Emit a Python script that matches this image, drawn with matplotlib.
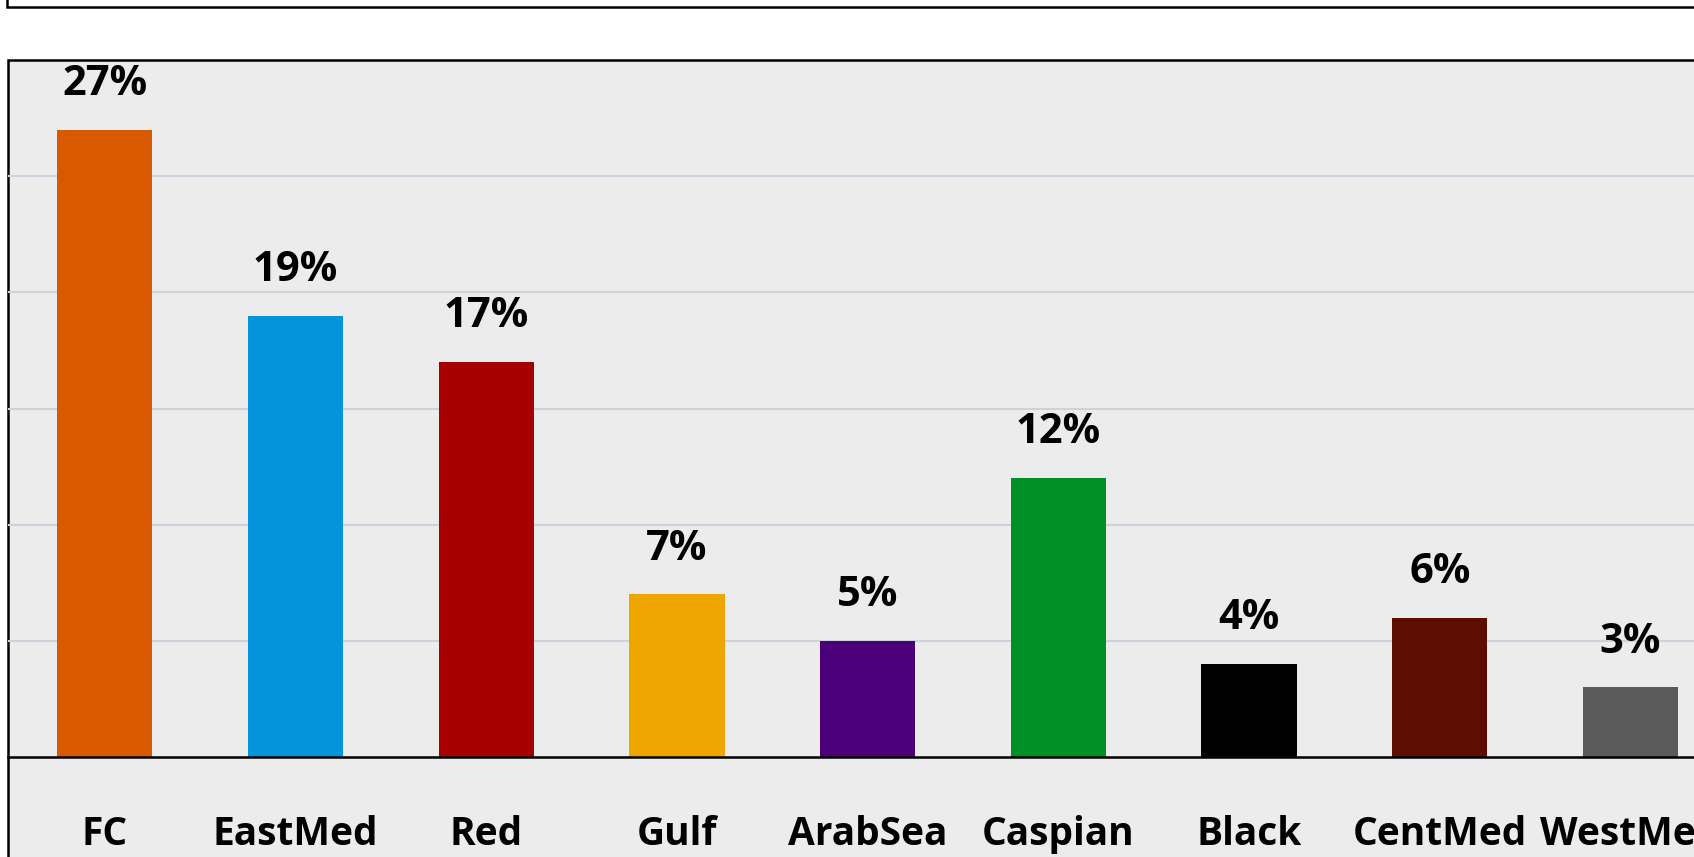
import matplotlib
matplotlib.use("Agg")
import matplotlib.pyplot as plt
from matplotlib.patches import Rectangle

regions = ["FC", "EastMed", "Red", "Gulf", "ArabSea", "Caspian", "Black", "CentMed", "WestMed"]
shares = [27, 19, 17, 7, 5, 12, 4, 6, 3]
bar_colors = ["#D95900", "#0394DC", "#A60000", "#EFA500", "#4B0079",
              "#009126", "#000000", "#5E0E00", "#5B5B5B"]
grid_ticks = [5, 10, 15, 20, 25]

W, H = 1694, 857
fig = plt.figure(figsize=(W / 100, H / 100), dpi=100, facecolor="white")

# box above the chart (only its lower part shows)
fig.patches.append(Rectangle((7 / W, (H - 7) / H), 1.2, 1.0, transform=fig.transFigure,
                             facecolor="white", edgecolor="black", linewidth=1.8, zorder=-2))
# chart area frame
fig.patches.append(Rectangle((8 / W, -0.2), 1.2, (H - 60) / H + 0.2, transform=fig.transFigure,
                             facecolor="#ECECEC", edgecolor="black", linewidth=1.8, zorder=-1))

# plot area: x from 8px, y from axis line at 757px up to 60px
unit = 190.7
x0 = 8
x_right = x0 + unit * 9.5
ax = fig.add_axes([x0 / W, (H - 757) / H, (x_right - x0) / W, (757 - 60) / H])
ax.set_facecolor("none")
ax.set_xlim(-(104.8 - x0) / unit, -(104.8 - x0) / unit + 9.5)
ax.set_ylim(0, 30)

font = "Open Sans"
ax.bar(range(len(regions)), shares, width=0.5, color=bar_colors, zorder=3)
for i, v in enumerate(shares):
    ax.annotate(f"{v}%", (i, v), xytext=(0, 25), textcoords="offset points",
                ha="center", va="baseline", fontsize=30, fontweight="bold",
                family=font, color="black")

ax.set_yticks(grid_ticks)
ax.yaxis.grid(True, color="#CDD3DC", linewidth=1.5, zorder=0)
ax.tick_params(axis="y", left=False, labelleft=False)
ax.set_xticks(range(len(regions)))
ax.set_xticklabels(regions, fontsize=28, fontweight="bold", family=font)
ax.tick_params(axis="x", length=0, pad=42)

for s in ["top", "left", "right"]:
    ax.spines[s].set_visible(False)
ax.spines["bottom"].set_color("black")
ax.spines["bottom"].set_linewidth(1.8)
ax.spines["bottom"].set_zorder(4)

fig.savefig("out.png", dpi=100, facecolor="white")
